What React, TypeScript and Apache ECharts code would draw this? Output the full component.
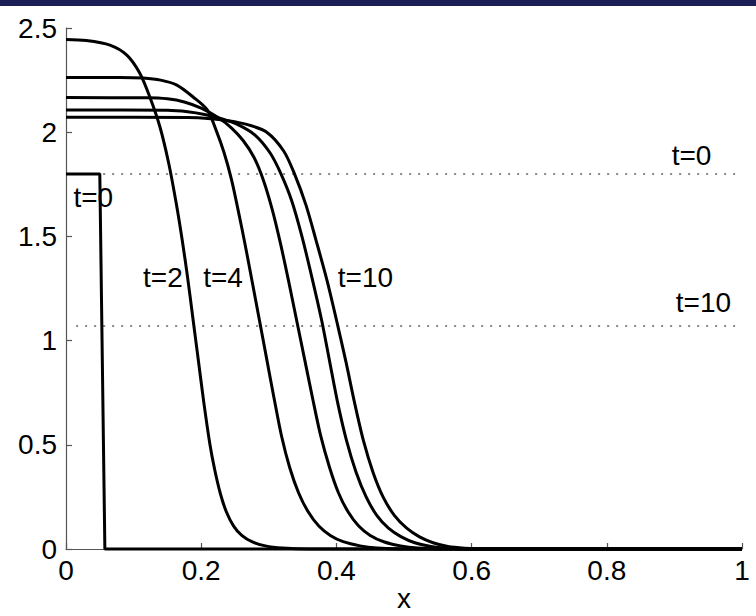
import React, { useEffect, useRef } from "react";
import * as echarts from "echarts";

// ---- data ----
const xTicks = [0, 0.2, 0.4, 0.6, 0.8, 1];
const yTicks = [0, 0.5, 1, 1.5, 2, 2.5];

const curveT0: number[][] = [[0, 1.8], [0.05, 1.8], [0.0575, 0], [1, 0]];

const curveT2: number[][] = [
  [0, 2.445], [0.03, 2.44], [0.065, 2.418], [0.09, 2.37], [0.109, 2.284], [0.124, 2.169],
  [0.139, 2.025], [0.152, 1.85], [0.163, 1.66], [0.172, 1.48], [0.18, 1.3], [0.188, 1.1],
  [0.196, 0.9], [0.204, 0.7], [0.213, 0.5], [0.22, 0.38], [0.228, 0.27], [0.237, 0.18],
  [0.248, 0.11], [0.26, 0.065], [0.275, 0.035], [0.295, 0.015], [0.32, 0.005], [0.36, 0], [1, 0],
];

const curveT4: number[][] = [
  [0, 2.263], [0.08, 2.263], [0.114, 2.26], [0.14, 2.25], [0.164, 2.226], [0.188, 2.169],
  [0.209, 2.107], [0.222, 2.01], [0.234, 1.9], [0.245, 1.77], [0.255, 1.62], [0.265, 1.46],
  [0.275, 1.29], [0.286, 1.1], [0.297, 0.91], [0.308, 0.72], [0.319, 0.54], [0.331, 0.39],
  [0.344, 0.27], [0.358, 0.18], [0.374, 0.11], [0.391, 0.065], [0.41, 0.035], [0.435, 0.015],
  [0.46, 0.005], [0.5, 0], [1, 0],
];

const curveT6: number[][] = [
  [0, 2.166], [0.12, 2.165], [0.15, 2.16], [0.175, 2.145], [0.2, 2.115], [0.225, 2.07],
  [0.245, 2.02], [0.262, 1.96], [0.278, 1.88], [0.292, 1.77], [0.305, 1.63], [0.317, 1.47],
  [0.329, 1.29], [0.341, 1.1], [0.353, 0.91], [0.365, 0.72], [0.377, 0.54], [0.39, 0.39],
  [0.403, 0.27], [0.417, 0.18], [0.433, 0.11], [0.45, 0.065], [0.47, 0.035], [0.495, 0.015],
  [0.52, 0.005], [0.56, 0], [1, 0],
];

const curveT8: number[][] = [
  [0, 2.107], [0.15, 2.105], [0.18, 2.098], [0.205, 2.085], [0.23, 2.065], [0.255, 2.035],
  [0.28, 1.985], [0.302, 1.9], [0.318, 1.8], [0.334, 1.67], [0.349, 1.5], [0.364, 1.3],
  [0.378, 1.1], [0.39, 0.9], [0.402, 0.7], [0.415, 0.52], [0.429, 0.37], [0.444, 0.25],
  [0.46, 0.16], [0.477, 0.1], [0.496, 0.058], [0.516, 0.03], [0.54, 0.012], [0.565, 0.004],
  [0.6, 0], [1, 0],
];

const curveT10: number[][] = [
  [0, 2.072], [0.18, 2.07], [0.21, 2.066], [0.24, 2.055], [0.27, 2.035], [0.297, 2.0],
  [0.322, 1.91], [0.338, 1.8], [0.355, 1.65], [0.37, 1.48], [0.386, 1.29], [0.4, 1.1],
  [0.414, 0.9], [0.427, 0.7], [0.44, 0.52], [0.454, 0.37], [0.469, 0.25], [0.486, 0.16],
  [0.504, 0.1], [0.523, 0.058], [0.543, 0.03], [0.565, 0.012], [0.59, 0.004], [0.62, 0], [1, 0],
];

const dottedLevels = [1.8, 1.07];
const dottedStartX = 0.015;
const dottedEndX = 1;

const annotationTexts = ["t=0", "t=2", "t=4", "t=10", "t=0", "t=10"];
const annotationX = [0.011, 0.114, 0.203, 0.402, 0.896, 0.902];
const annotationY = [1.685, 1.305, 1.305, 1.305, 1.89, 1.185];

const FONT = "'Liberation Sans', Arial, Helvetica, sans-serif";

export default function App() {
  const ref = useRef<HTMLDivElement>(null);

  useEffect(() => {
    if (!ref.current) return;
    const chart = echarts.init(ref.current, undefined, { renderer: "svg" });

    const solid = (name: string, data: number[][], smooth: boolean) => ({
      name,
      type: "line",
      data,
      showSymbol: false,
      symbol: "none",
      smooth: smooth ? 0.3 : false,
      lineStyle: { color: "#000", width: 3 },
      clip: false,
      z: 5,
    });

    const series: any[] = [
      ...dottedLevels.map((lv, i) => ({
        name: "dotted" + i,
        type: "line",
        data: [[dottedStartX, lv], [dottedEndX, lv]],
        showSymbol: false,
        symbol: "none",
        lineStyle: { color: "#8a8a8a", width: 2, type: [2, 7] },
        z: 2,
      })),
      solid("t0", curveT0, false),
      solid("t2", curveT2, true),
      solid("t4", curveT4, true),
      solid("t6", curveT6, true),
      solid("t8", curveT8, true),
      solid("t10", curveT10, true),
      {
        name: "labels",
        type: "scatter",
        symbolSize: 0,
        clip: false,
        z: 10,
        itemStyle: { opacity: 1 },
        data: annotationTexts.map((t, i) => ({ value: [annotationX[i], annotationY[i]], name: t })),
        label: {
          show: true,
          position: "right",
          distance: 0,
          formatter: (p: any) => p.name,
          color: "#000",
          fontSize: 28,
          fontFamily: FONT,
        },
      },
    ];

    chart.setOption({
      animation: false,
      backgroundColor: "#fff",
      grid: { left: 66, right: 14, top: 28, bottom: 67, containLabel: false, outerBoundsMode: "none" },
      xAxis: {
        type: "value",
        min: xTicks[0],
        max: xTicks[xTicks.length - 1],
        interval: 0.2,
        name: "x",
        nameLocation: "middle",
        nameGap: 35,
        nameMoveOverlap: false,
        nameTextStyle: { color: "#000", fontSize: 28, fontFamily: FONT },
        axisLine: { show: true, lineStyle: { color: "#555", width: 1.2 } },
        axisTick: { show: true, inside: true, length: 6, lineStyle: { color: "#555", width: 1.2 } },
        axisLabel: {
          color: "#000",
          fontSize: 28,
          fontFamily: FONT,
          margin: 7,
          formatter: (v: number) => String(Math.round(v * 10) / 10),
        },
        splitLine: { show: false },
      },
      yAxis: {
        type: "value",
        min: yTicks[0],
        max: yTicks[yTicks.length - 1],
        interval: 0.5,
        axisLine: { show: true, lineStyle: { color: "#555", width: 1.2 } },
        axisTick: { show: true, inside: true, length: 6, lineStyle: { color: "#555", width: 1.2 } },
        axisLabel: {
          color: "#000",
          fontSize: 28,
          fontFamily: FONT,
          margin: 9,
          formatter: (v: number) => String(Math.round(v * 10) / 10),
        },
        splitLine: { show: false },
      },
      graphic: [
        {
          type: "rect",
          shape: { x: 0, y: 0, width: 756, height: 6 },
          style: { fill: "#1c1f56" },
          z: 100,
        },
      ],
      series,
    });

    return () => chart.dispose();
  }, []);

  return (
    <div
      ref={ref}
      style={{ position: "fixed", left: 0, top: 0, width: 756, height: 616, background: "#fff" }}
    />
  );
}
